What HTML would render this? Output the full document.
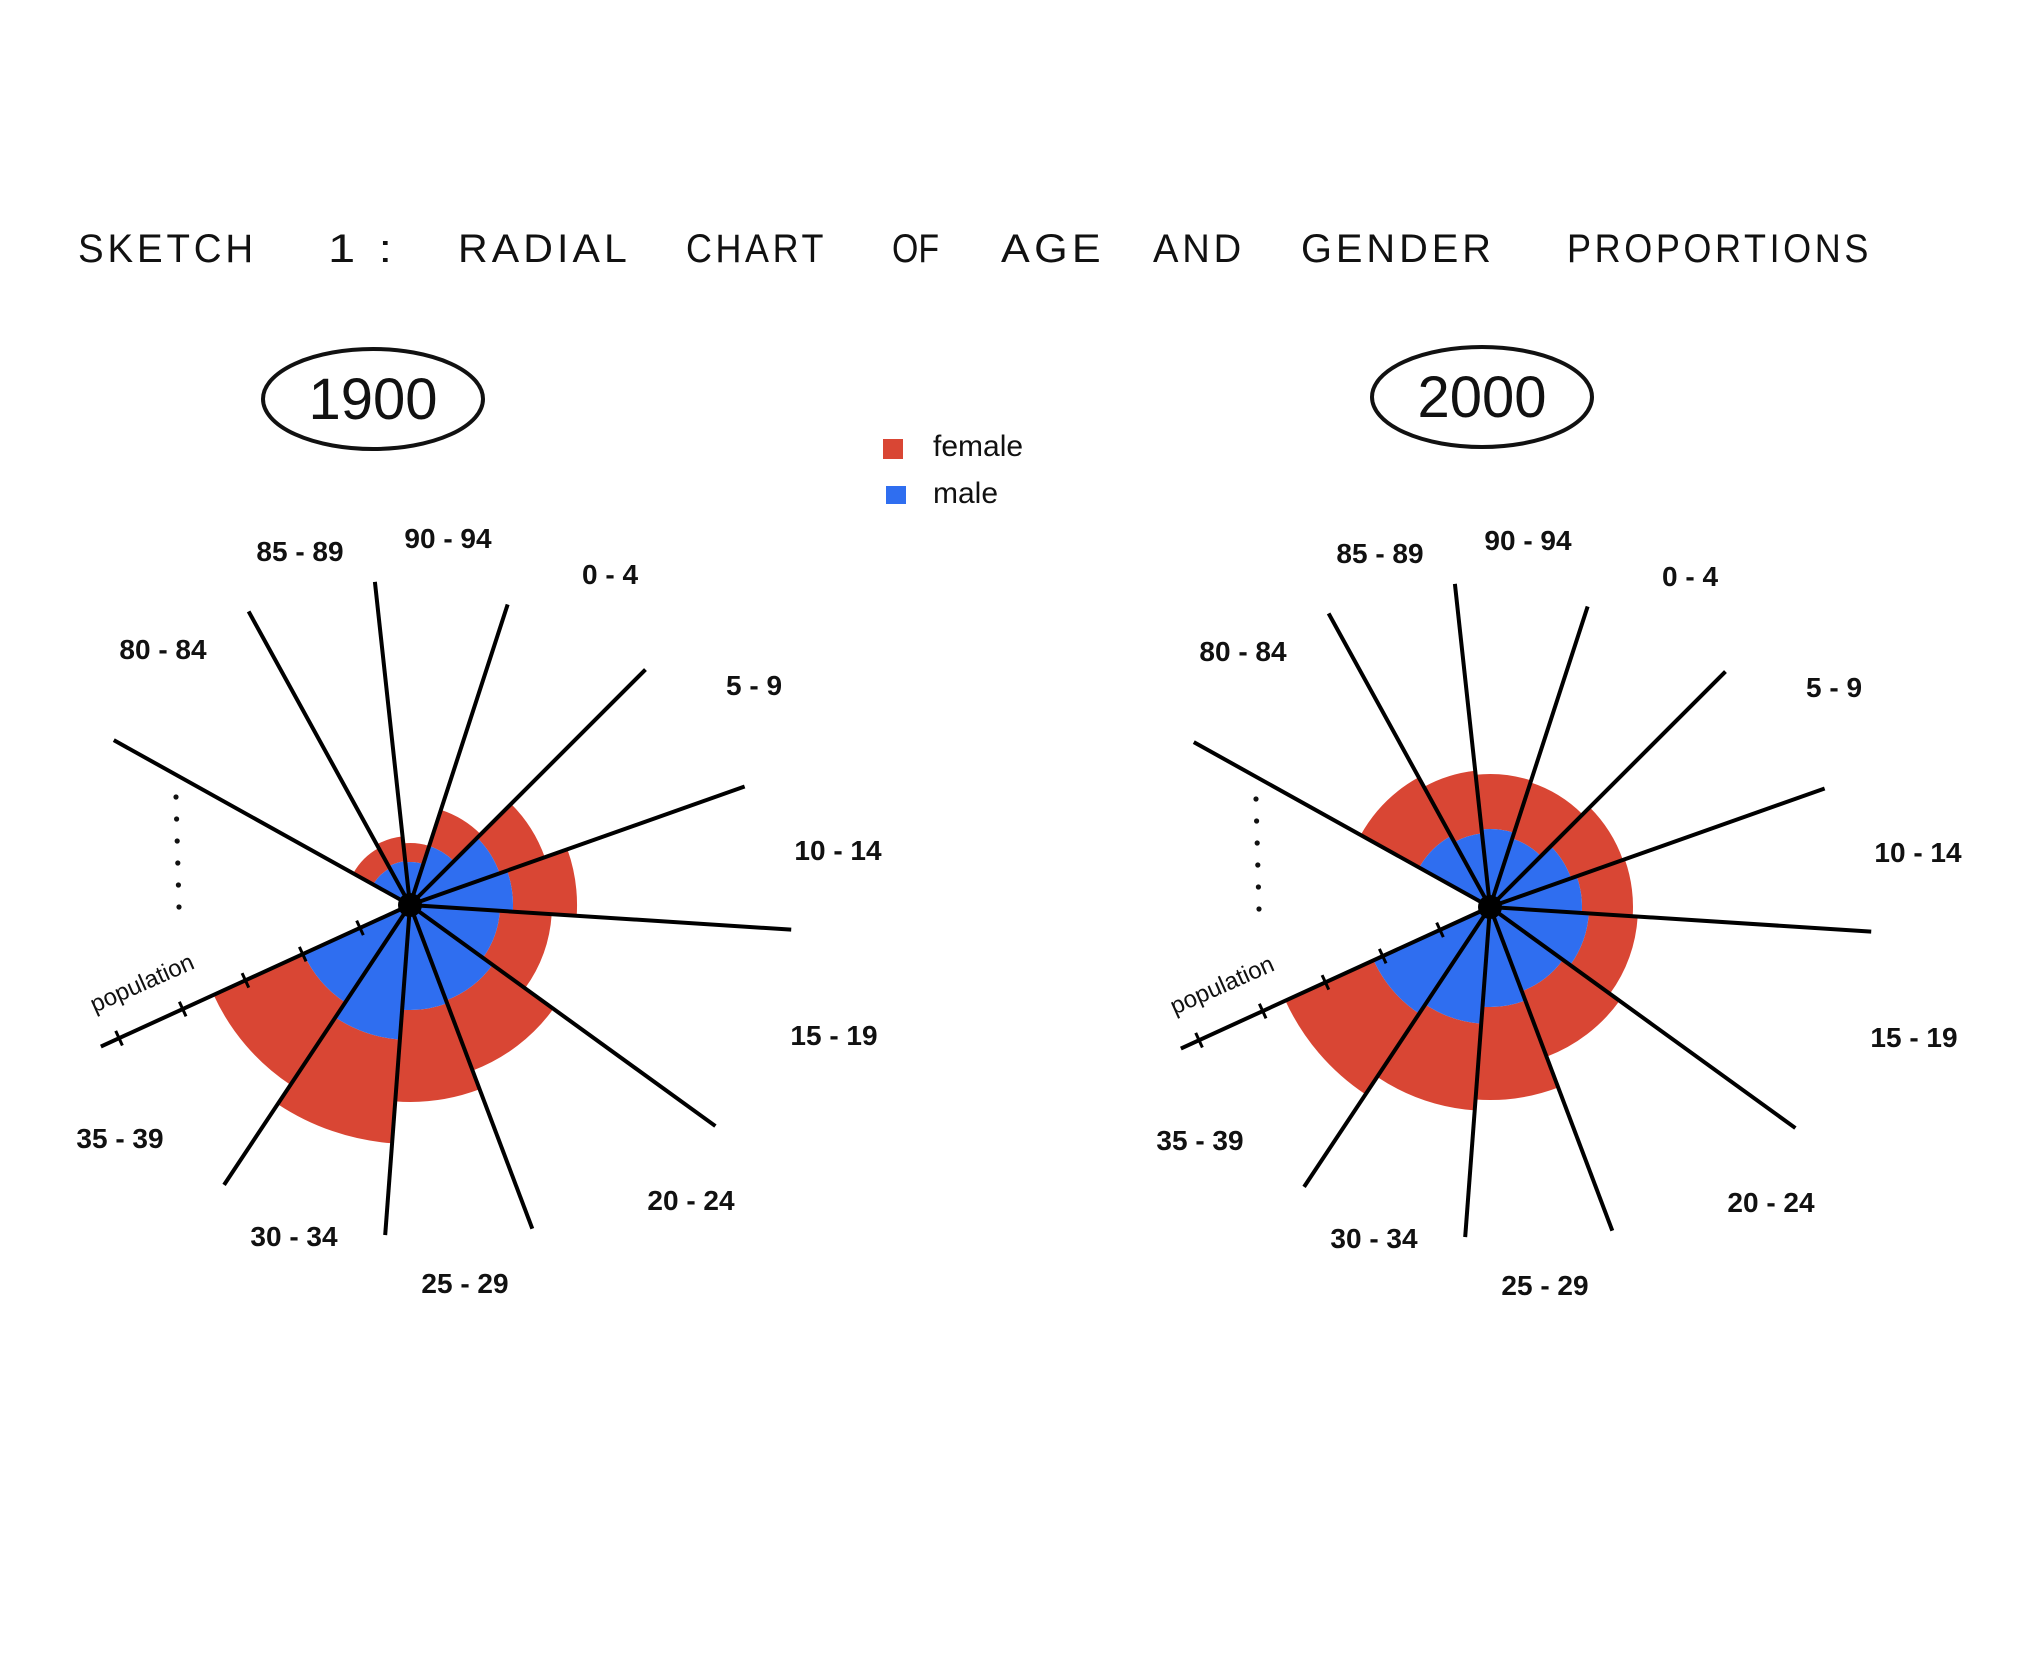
<!DOCTYPE html>
<html><head><meta charset="utf-8"><style>
html,body{margin:0;padding:0;background:#fff;}
svg{display:block;font-family:"Liberation Sans",sans-serif;}
</style></head><body>
<svg id="chart" width="2040" height="1668" viewBox="0 0 2040 1668" xmlns="http://www.w3.org/2000/svg">
<g id="title" font-size="40" fill="#111" letter-spacing="4">
<text x="78" y="262" textLength="179" lengthAdjust="spacingAndGlyphs">SKETCH</text>
<text x="328" y="262" textLength="69" lengthAdjust="spacingAndGlyphs">1 :</text>
<text x="458" y="262" textLength="173" lengthAdjust="spacingAndGlyphs">RADIAL</text>
<text x="686" y="262" textLength="141" lengthAdjust="spacingAndGlyphs">CHART</text>
<text x="892" y="262" letter-spacing="0" textLength="47" lengthAdjust="spacingAndGlyphs">OF</text>
<text x="1001" y="262" textLength="104" lengthAdjust="spacingAndGlyphs">AGE</text>
<text x="1153" y="262" textLength="92" lengthAdjust="spacingAndGlyphs">AND</text>
<text x="1301" y="262" textLength="194" lengthAdjust="spacingAndGlyphs">GENDER</text>
<text x="1567" y="262" textLength="305" lengthAdjust="spacingAndGlyphs">PROPORTIONS</text>
</g>
<g>
<rect x="883" y="439" width="20" height="20" fill="#d94634"/>
<text x="933" y="456" font-size="30" fill="#111">female</text>
<rect x="886" y="486" width="20" height="18" fill="#2f6ef0"/>
<text x="933" y="503" font-size="30" fill="#111">male</text>
</g>
<g id="left"></g>
<g id="right"></g>
</svg>
<script>
const categories = ["0-4","5-9","10-14","15-19","20-24","25-29","30-34","35-39","80-84","85-89","90-94"];
const male1900 = [62,95,103,90,102,105,135,117,42,44,43];
const female1900 = [38,48,64,52,75,92,104,99,23,25,19];
const male2000 = [72,86,92,99,90,100,117,128,81,74,78];
const female2000 = [59,55,51,49,70,93,87,97,67,63,55];
const years = ["1900","2000"];
const popTicks = [55,118,181,250,320];

const NS="http://www.w3.org/2000/svg";
const spokeDeg=[-72,-45,-19.5,3.7,35.9,69.3,94.3,123.6,155.4,209.1,241.2,263.8];
const spokeLen=[316,333,355,382,377,346,331,336,340,339,335,325];
const sectorSpokes=[[0,1],[1,2],[2,3],[3,4],[4,5],[5,6],[6,7],[7,8],[9,10],[10,11],[11,12]];
const labelOff=[[200,-331],[344,-220],[428,-55],[424,130],[281,295],[55,378],[-116,331],[-290,233],[-247,-256],[-110,-354],[38,-367]];
function rScale(v){return v;}
function ang(i){return (i>=12?spokeDeg[i-12]+360:spokeDeg[i])*Math.PI/180;}
function mk(tag,attrs,parent){const e=document.createElementNS(NS,tag);for(const k in attrs)e.setAttribute(k,attrs[k]);parent.appendChild(e);return e;}
function ring(cx,cy,r0,r1,a0,a1){
  const p=(r,a)=>(cx+r*Math.cos(a)).toFixed(1)+","+(cy+r*Math.sin(a)).toFixed(1);
  return "M"+p(r0,a0)+" L"+p(r1,a0)+" A"+r1+","+r1+" 0 0 1 "+p(r1,a1)+" L"+p(r0,a1)+(r0>0?" A"+r0+","+r0+" 0 0 0 "+p(r0,a0):"")+" Z";
}
function draw(g,cx,cy,male,female,year,ex,ey){
  const ell=mk("ellipse",{cx:ex,cy:ey,rx:110,ry:50,fill:"none",stroke:"#111","stroke-width":4},g);
  
  
  const yt=mk("text",{x:ex,y:ey+20,"font-size":58,"text-anchor":"middle",fill:"#111"},g);
  yt.textContent=year;
  
  
  categories.forEach((c,i)=>{
    const a0=ang(sectorSpokes[i][0]),a1=ang(sectorSpokes[i][1]);
    const rm=rScale(male[i]),rf=rScale(male[i]+female[i]);
    const f=mk("path",{d:ring(cx,cy,rm,rf,a0,a1),fill:"#d94634"},g);
    
    
    const m=mk("path",{d:ring(cx,cy,0,rm,a0,a1),fill:"#2f6ef0"},g);
    
    
    const t=mk("text",{x:cx+labelOff[i][0],y:cy+labelOff[i][1]+10,"font-size":28,"text-anchor":"middle",fill:"#111","font-weight":"bold"},g);
    t.textContent=c.replace("-"," - ");
    
    
  });
  spokeDeg.forEach((d,i)=>{
    const a=d*Math.PI/180;
    const l=mk("line",{x1:cx,y1:cy,x2:cx+spokeLen[i]*Math.cos(a),y2:cy+spokeLen[i]*Math.sin(a),stroke:"#000","stroke-width":4},g);
    
    
  });
  const pa=spokeDeg[8]*Math.PI/180;
  popTicks.forEach(r=>{
    const x=cx+r*Math.cos(pa),y=cy+r*Math.sin(pa),nx=-Math.sin(pa)*8,ny=Math.cos(pa)*8;
    const tk=mk("line",{x1:x-nx,y1:y-ny,x2:x+nx,y2:y+ny,stroke:"#000","stroke-width":3},g);
    
    
  });
  const pl=mk("text",{x:cx-268,y:cy+86,"font-size":24,fill:"#111","text-anchor":"middle",transform:"rotate(-24 "+(cx-268)+" "+(cy+78)+")"},g);
  pl.textContent="population";
  
  
  for(let k=0;k<6;k++){
    const dt=mk("circle",{cx:cx-234+k*0.6,cy:cy-108+k*22,r:2.6,fill:"#111"},g);
    
    
  }
  const c=mk("circle",{cx:cx,cy:cy,r:12,fill:"#000"},g);
  
  
}
draw(document.getElementById("left"),410,905,male1900,female1900,years[0],373,399);
draw(document.getElementById("right"),1490,907,male2000,female2000,years[1],1482,397);
</script>
</body></html>
